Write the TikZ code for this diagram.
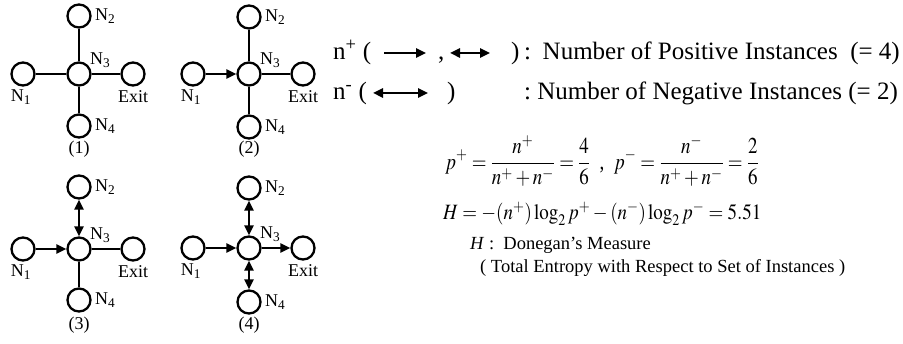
\documentclass[tikz,border=0pt]{standalone}
\usepackage{mathptmx}
\usepackage[no-math]{fontspec}
\usepackage{graphicx}
\setmainfont{Liberation Serif}
\usetikzlibrary{arrows.meta}
\tikzset{
  nd/.style={circle,draw,line width=2.3pt,minimum size=23pt,inner sep=0pt},
  lnk/.style={line width=2.4pt},
  arr/.style={lnk,-{Triangle[length=10pt,width=9pt]}},
  darr/.style={lnk,{Triangle[length=10pt,width=9pt]}-{Triangle[length=10pt,width=9pt]}},
  lbl/.style={font=\fontsize{18}{18}\selectfont,inner sep=0pt},
  txt/.style={font=\fontsize{25}{25}\selectfont,inner sep=0pt,anchor=base west},
  txte/.style={font=\fontsize{25}{25}\selectfont,inner sep=0pt,anchor=base east},
  mtxt/.style={font=\fontsize{19}{22}\selectfont,inner sep=0pt,anchor=west},
  htxt/.style={font=\fontsize{18.5}{18.5}\selectfont,inner sep=0pt,anchor=base west},
}
\newcommand\crossnodes[6]{%
  \node[nd] (#1c) at (#2,#3) {};
  \node[nd] (#1t) at (#2,#3-#4) {};
  \node[nd] (#1b) at (#2,#3+#5) {};
  \node[nd] (#1l) at (#2-56,#3) {};
  \node[nd] (#1r) at (#2+54,#3) {};
  \node[lbl,anchor=west] (#1tl) at (#2+16,#3-#4) {N\textsubscript{2}};
  \node[lbl,anchor=west] (#1cl) at (#2+11,#3-14) {N\textsubscript{3}};
  \node[lbl] (#1ll) at (#2-58,#3+23) {N\textsubscript{1}};
  \node[lbl] (#1rl) at (#2+54,#3+23) {Exit};
  \node[lbl,anchor=west] (#1bl) at (#2+16,#3+#5) {N\textsubscript{4}};
  \node[lbl] (#1cap) at (#2,#3+#6) {(#1)};
}
\begin{document}
\begin{tikzpicture}[x=1pt,y=-1pt]
\useasboundingbox (0,0) rectangle (903,344);
% diagrams
\crossnodes{1}{79}{74}{58}{52}{75}
\crossnodes{2}{249}{74}{57}{53}{75}
\crossnodes{3}{79}{249}{62}{51}{76}
\crossnodes{4}{249}{248}{60}{54}{77}
% (1)
\draw[lnk] (1l) -- (1c);
\draw[lnk] (1c) -- (1r);
\draw[lnk] (1t) -- (1c);
\draw[lnk] (1c) -- (1b);
% (2)
\draw[arr] (2l) -- (2c);
\draw[lnk] (2c) -- (2r);
\draw[lnk] (2t) -- (2c);
\draw[lnk] (2c) -- (2b);
% (3)
\draw[arr] (3l) -- (3c);
\draw[lnk] (3c) -- (3r);
\draw[darr] (3t) -- (3c);
\draw[lnk] (3c) -- (3b);
% (4)
\draw[arr] (4l) -- (4c);
\draw[arr] (4c) -- (4r);
\draw[darr] (4t) -- (4c);
\draw[darr] (4c) -- (4b);
% legend line 1
\node[txt] (np) at (333,60) {n\textsuperscript{+} (};
\coordinate (a1s) at (384,53); \coordinate (a1e) at (426,53);
\draw[arr] (a1s) -- (a1e);
\node[txt] (cm) at (438,60) {,};
\coordinate (a2s) at (450,53); \coordinate (a2e) at (490,53);
\draw[darr] (a2s) -- (a2e);
\node[txt] (cp1) at (511,60) {)};
\node[txt] (co1) at (524,60) {:};
\node[txte] (pos) at (900,60) {Number of Positive Instances\ \ (=\ 4)};
% legend line 2
\node[txt] (nm) at (333,100) {n\textsuperscript{-} (};
\coordinate (a3s) at (373,93); \coordinate (a3e) at (428,93);
\draw[darr] (a3s) -- (a3e);
\node[txt] (cp2) at (447,100) {)};
\node[txt] (co2) at (524,100) {:};
\node[txte] (neg) at (898,100) {Number of Negative Instances (=\ 2)};
% formulas
\node[mtxt] (pf) at (445,161) {\scalebox{1}[1.2]{$\displaystyle p^{+} = \frac{n^{+}}{n^{+}+n^{-}} = \frac{4}{6}$\ \ ,\ \ $\displaystyle p^{-} = \frac{n^{-}}{n^{+}+n^{-}} = \frac{2}{6}$}};
\node[mtxt] (hf) at (443,214) {\scalebox{1}[1.15]{$H = -(n^{+})\log_{2} p^{+} - (n^{-})\log_{2} p^{-} = 5.51$}};
\node[htxt] (hd) at (470,250) {\textit{H} :\ \ Donegan's Measure};
\node[htxt] (te) at (480,273) {( Total Entropy with Respect to Set of Instances )};
\end{tikzpicture}
\end{document}
